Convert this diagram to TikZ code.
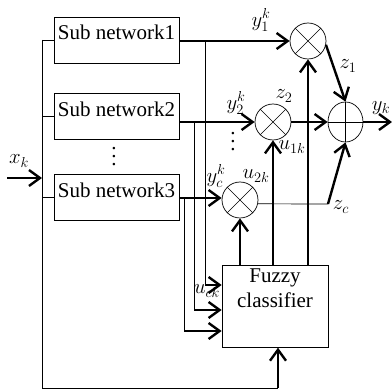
\documentclass[tikz,border=0pt]{standalone}
\usepackage{fontspec}
\setmainfont{Liberation Serif}
\usetikzlibrary{positioning, shapes.geometric, arrows.meta}

% three dots with a wider spacing than \vdots
\newcommand{\dotcol}{\vbox{\baselineskip=8pt \lineskiplimit=0pt \hbox{.}\hbox{.}\hbox{.}}}

\tikzset{
    subbox/.style={draw, line width=0.7pt, minimum width=125pt, inner xsep=2pt, inner ysep=7pt,
                   text height=16pt, text depth=16pt},
    mult/.style={circle, draw, line width=0.7pt, minimum size=36pt, inner sep=0pt,
                 path picture={\draw[line width=0.7pt] (path picture bounding box.north west) -- (path picture bounding box.south east)
                                                    (path picture bounding box.south west) -- (path picture bounding box.north east);}},
    adder/.style={ellipse, draw, line width=0.7pt, minimum width=35pt, minimum height=40pt, inner sep=0pt,
                  path picture={\draw[line width=0.7pt] (path picture bounding box.north) -- (path picture bounding box.south)
                                                     (path picture bounding box.west) -- (path picture bounding box.east);}},
    sig/.style={line width=2.4pt, -{Straight Barb[length=11pt, width=16pt, line width=2.4pt]}},
    wire/.style={line width=0.7pt},
}

\begin{document}
\begin{tikzpicture}[x=1pt, y=-1pt, font=\fontsize{21}{25}\selectfont]
        \useasboundingbox (0,0) rectangle (392,390);

        \node[subbox] at (116.5,40)              (sub1)  {Sub network1};
        \node[subbox, below=30pt of sub1]        (sub2)  {Sub network2};
        \node[subbox, below=34pt of sub2]        (sub3)  {Sub network3};
        \node at (114,157)                       (dots1) {\dotcol};

        \node[mult]  at (308,41)                 (m1)    {};
        \node[mult]  at (273,122)                (m2)    {};
        \node[mult]  at (240,200)                (mc)    {};
        \node[adder] at (345.5,122)              (sum)   {};
        \node at (233,142)                       (dots2) {\dotcol};

        \node[draw, line width=0.7pt, minimum width=106pt, align=center, inner sep=2pt,
              text height=40pt, text depth=38pt, anchor=north] at (275,265) (fuzzy) {Fuzzy\\classifier};

        % input bus
        \coordinate (bustop) at (42,40);
        \coordinate (busbot) at (42,388);
        \coordinate (xin)    at (7,178);
        \draw[wire] (bustop) -- (busbot) -- (busbot -| 278,0);
        \draw[wire] (bustop) -- (bustop -| sub1.west);
        \draw[wire] (bustop |- sub2.west) -- (sub2.west);
        \draw[wire] (bustop |- sub3.west) -- (sub3.west);
        \draw[sig] (xin) -- (xin -| bustop);
        \draw[sig] (busbot -| 278,0) -- (278,0 |- fuzzy.south);

        % subnetwork outputs
        \draw[sig] (sub1.east |- m1.west) -- (m1.west);
        \draw[sig] (sub2.east |- m2.west) -- (m2.west);
        \draw[sig] (sub3.east |- 0,198) -- (mc.west |- 0,198);

        % taps into the classifier
        \coordinate (tap1) at (205,41);
        \coordinate (tap2) at (194,122);
        \coordinate (tap3) at (184,198);
        \draw[wire] (tap1) -- (tap1 |- 0,285);
        \draw[wire] (tap2) -- (tap2 |- 0,310);
        \draw[wire] (tap3) -- (tap3 |- 0,331);
        \draw[sig] (tap1 |- 0,285) -- (fuzzy.west |- 0,285);
        \draw[sig] (tap2 |- 0,310) -- (fuzzy.west |- 0,310);
        \draw[sig] (tap3 |- 0,331) -- (fuzzy.west |- 0,331);

        % weights from the classifier
        \draw[sig] (mc.south |- fuzzy.north) -- (mc.south);
        \draw[sig] (m2.south |- fuzzy.north) -- (m2.south);
        \draw[sig] (m1.south |- fuzzy.north) -- (m1.south);

        % products into the adder
        \coordinate (zc)   at (328,204);
        \coordinate (yout) at (392,122);
        \draw[sig] (m1.-12) -- (sum.north);
        \draw[sig] (m2.east) -- (sum.west);
        \draw[wire] (mc.-12) -- (zc);
        \draw[sig] (zc) -- (sum.south);
        \draw[sig] (sum.east) -- (yout);

        % signal labels
        \node at (19,161)  (lx)   {$x_k$};
        \node at (261,20)  (ly1)  {$y_1^k$};
        \node at (236,103) (ly2)  {$y_2^k$};
        \node at (216,176) (lyc)  {$y_c^k$};
        \node at (256,176) (lu2)  {$u_{2k}$};
        \node at (292,147) (lu1)  {$u_{1k}$};
        \node at (207,291) (luc)  {$u_{ck}$};
        \node at (284,96)  (lz2)  {$z_2$};
        \node at (348,66)  (lz1)  {$z_1$};
        \node at (341,207) (lzc)  {$z_c$};
        \node at (381,108) (lyk)  {$y_k$};
\end{tikzpicture}
\end{document}
